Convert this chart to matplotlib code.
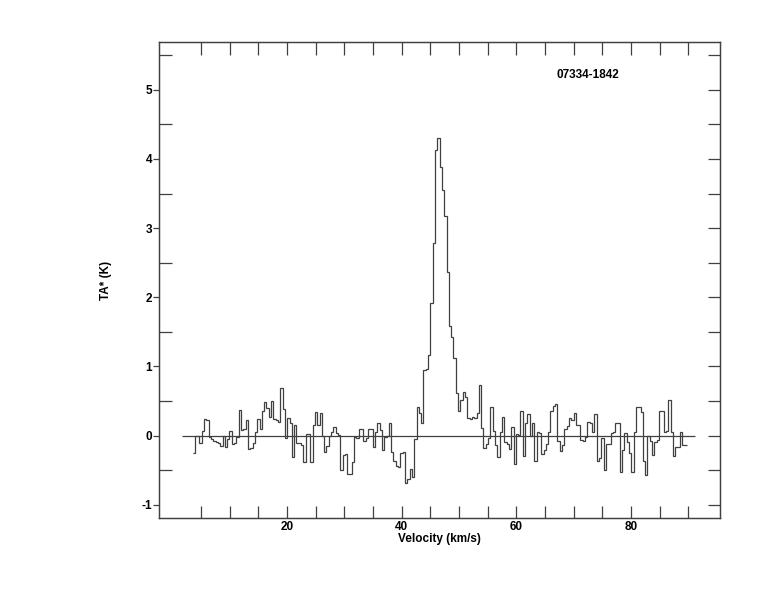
import numpy as np
import matplotlib.pyplot as plt
from matplotlib.ticker import MultipleLocator, FixedLocator

# spectrum (TA* in K), one value per channel
ta_before_peak = [
    -0.25, 0.00, -0.01, -0.10, 0.07, 0.24, 0.22, -0.02, -0.05, -0.08,
    -0.09, -0.10, -0.15, 0.00, -0.16, -0.05, 0.07, -0.12, -0.10, -0.02,
    0.37, 0.08, 0.10, 0.22, -0.19, -0.18, -0.10, 0.05, 0.24, 0.10,
    0.35, 0.49, 0.40, 0.27, 0.50, 0.24, 0.22, 0.20, 0.69, 0.39,
    -0.04, 0.25, 0.19, -0.31, 0.16, -0.10, -0.11, -0.13, -0.38, 0.03,
    0.02, -0.38, 0.15, 0.34, 0.16, 0.33, 0.00, -0.23, -0.15, 0.00,
    0.06, 0.13, 0.04, 0.01, -0.49, -0.28, -0.27, -0.55, -0.55, -0.38,
    -0.02, -0.03, 0.09, 0.09, -0.07, -0.03, 0.09, 0.09, -0.16, 0.06,
    0.18, 0.08, -0.20, -0.02, 0.00, 0.18, -0.23, -0.37, -0.44, -0.45,
    -0.25, -0.23, -0.69, -0.62, -0.48, -0.60, -0.05, 0.42, 0.33, 0.19,
    0.95, 0.97, 1.16, 1.92, 2.78, 4.13, 4.30,
]
ta_after_peak = [
    3.88, 3.55, 3.17, 2.36, 1.59, 1.43, 1.12, 0.61, 0.35, 0.51,
    0.63, 0.56, 0.25, 0.24, 0.27, 0.25, 0.33, 0.73, 0.11, -0.18,
    -0.12, -0.03, 0.42, 0.07, -0.13, -0.31, 0.05, 0.27, -0.09, -0.12,
    -0.19, 0.13, -0.41, 0.02, 0.01, 0.36, -0.29, 0.19, 0.32, 0.00,
    0.18, -0.37, 0.05, 0.04, -0.26, -0.20, -0.12, 0.05, 0.35, 0.43,
    0.46, -0.08, -0.22, -0.14, 0.10, 0.14, 0.25, 0.23, 0.33, 0.16,
    0.16, -0.06, -0.07, -0.02, 0.20, 0.19, 0.05, 0.32, -0.37, -0.32,
    -0.04, -0.50, -0.12, -0.12, 0.04, 0.05, 0.18, 0.18, -0.52, -0.20,
    0.04, -0.09, -0.25, -0.52, 0.05, 0.42, 0.42, 0.34, -0.37, -0.57,
    -0.01, -0.07, -0.28, -0.09, -0.06, 0.35, 0.35, 0.06, 0.07, 0.51,
    0.06, -0.30, -0.17, -0.17, 0.06, -0.14, -0.14,
]
ta = np.array(ta_before_peak + ta_after_peak)

v_first = 3.55   # left edge of first channel (km/s)
v_last = 89.7    # right edge of last channel
baseline_range = (1.8, 91.1)
source_name = '07334-1842'

x_major = [20, 40, 60, 80]
x_minor = [5, 10, 15, 25, 30, 35, 45, 50, 55, 65, 70, 75, 85, 90]

edges = np.linspace(v_first, v_last, len(ta) + 1)

plt.rcParams['font.family'] = ['Liberation Sans', 'DejaVu Sans']
plt.rcParams['font.weight'] = 'bold'
plt.rcParams['axes.unicode_minus'] = False

fig = plt.figure(figsize=(7.74, 6.12), dpi=100)
ax = fig.add_axes([0.2054, 0.1536, 0.7248, 0.7778])

lc = '#404040'
ax.stairs(ta, edges, baseline=None, color=lc, lw=0.9)
ax.hlines(0, baseline_range[0], baseline_range[1], color=lc, lw=0.9)

ax.set_xlim(-2.3, 95.5)
ax.set_ylim(-1.19, 5.69)

ax.xaxis.set_major_locator(FixedLocator(x_major))
ax.xaxis.set_minor_locator(FixedLocator(x_minor))
ax.yaxis.set_major_locator(MultipleLocator(1))
ax.yaxis.set_minor_locator(MultipleLocator(0.5))

ax.tick_params(axis='x', which='both', direction='in', top=True, length=9,
               width=0.9, color=lc, labelsize=8.5, pad=2)
ax.tick_params(axis='y', which='major', direction='out', length=4,
               width=0.9, color=lc, labelsize=8.5, pad=1)
ax.tick_params(axis='y', which='minor', direction='in', length=9,
               width=0.9, color=lc)

# right-hand ticks all point inward
ax2 = ax.twinx()
ax2.set_ylim(ax.get_ylim())
ax2.yaxis.set_major_locator(MultipleLocator(0.5))
ax2.tick_params(axis='y', which='both', direction='in', length=9,
                width=0.9, color=lc, labelright=False)

for a in (ax, ax2):
    for s in a.spines.values():
        s.set_color(lc)
        s.set_linewidth(0.9)

ax.set_xlabel('Velocity (km/s)', fontsize=8.5, fontweight='bold', labelpad=0)
ax.set_ylabel('TA* (K)', fontsize=8.5, fontweight='bold', labelpad=21)
ax.text(72.5, 5.22, source_name, fontsize=8.5, fontweight='bold',
        ha='center', va='center')

fig.savefig('out.png', dpi=100)
